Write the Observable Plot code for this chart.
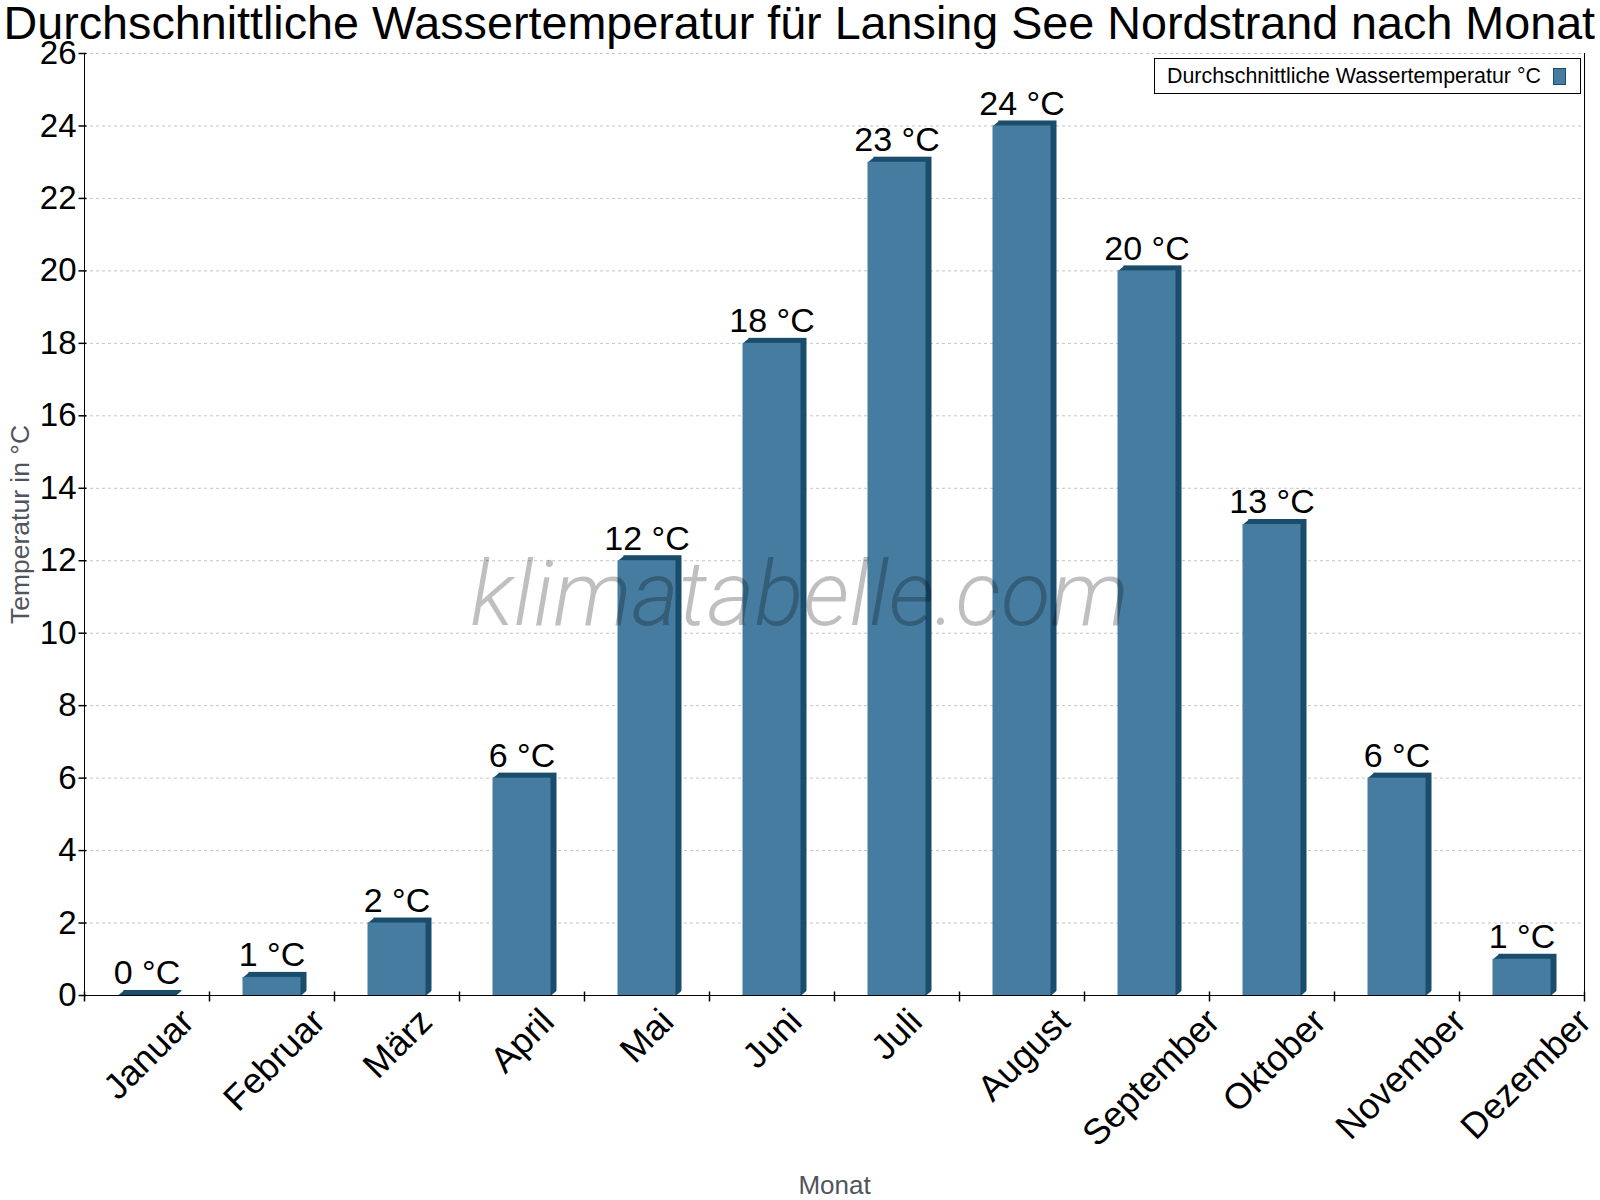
<!DOCTYPE html>
<html>
<head>
<meta charset="utf-8">
<script src="https://cdn.jsdelivr.net/npm/d3@7"></script>
<script src="https://cdn.jsdelivr.net/npm/@observablehq/plot@0.6"></script>
<style>
  body { margin: 0; background: #fff; }
  #chart { position: relative; width: 1600px; height: 1200px; font-family: "Liberation Sans", Arial, sans-serif; }
  #legend {
    position: absolute; left: 1154px; top: 58px; width: 427px; height: 36px;
    box-sizing: border-box; border: 1px solid #000; background: #fff;
    font-size: 21.4px; color: #000; line-height: 34px; padding-left: 12px; white-space: nowrap;
  }
  #legend .swatch {
    position: absolute; left: 398px; top: 9px; width: 11px; height: 15px;
    background: #467ca0; border: 1px solid #1a4c6c;
  }
</style>
</head>
<body>
<div id="chart"></div>
<script>
// Monthly mean water temperature, Lansing See Nordstrand
const months = ["Januar", "Februar", "März", "April", "Mai", "Juni", "Juli", "August", "September", "Oktober", "November", "Dezember"];
const temps = [0, 0.5, 2, 6, 12, 18, 23, 24, 20, 13, 6, 1];
const yTicks = [0, 2, 4, 6, 8, 10, 12, 14, 16, 18, 20, 22, 24, 26];

const title = "Durchschnittliche Wassertemperatur für Lansing See Nordstrand nach Monat";
const seriesName = "Durchschnittliche Wassertemperatur °C";
const yTitle = "Temperatur in °C";
const xTitle = "Monat";
const watermark = "klimatabelle.com";

const data = months.map((month, i) => ({month, temp: temps[i]}));

const W = 1600, H = 1200;
const margin = {top: 53, right: 16, bottom: 205, left: 84};
const bw = (W - margin.left - margin.right) / months.length;

const front = "#467ca0";
const dark = "#1a4c6c";
const half = 29;     // half width of the bar front face
const depth = [6, 5]; // 3D offset of top/side faces
const inset = bw / 2 - half;

// small path symbols for the 3D bar corners and axis ticks
const cornerTopLeft = {draw(c) { c.moveTo(-half, 0); c.lineTo(-half + depth[0], -depth[1]); c.lineTo(-half + depth[0], 0); c.closePath(); }};
const cornerBottomRight = {draw(c) { c.moveTo(half, 0); c.lineTo(half + depth[0], -depth[1]); c.lineTo(half + depth[0], 0.5); c.lineTo(half, 0.5); c.closePath(); }};
const tickH = {draw(c) { c.moveTo(-6, 0); c.lineTo(2, 0); }};
const tickV = {draw(c) { c.moveTo(0, -4); c.lineTo(0, 6); }};

const font = "Liberation Sans, Arial, sans-serif";
const monthFont = 36;

const svg = Plot.plot({
  width: W,
  height: H,
  marginTop: margin.top,
  marginRight: margin.right,
  marginBottom: margin.bottom,
  marginLeft: margin.left,
  style: {fontFamily: font, background: "white", overflow: "visible"},
  x: {type: "band", domain: months, padding: 0, axis: null},
  y: {domain: [0, 26], axis: null},
  marks: [
    // dotted grid
    Plot.ruleY(yTicks.filter(d => d > 0), {stroke: "#c4c4c4", strokeDasharray: "3,3"}),
    // dark back box: top face and side face
    Plot.barY(data, {x: "month", y: "temp", fill: dark, insetLeft: inset, insetRight: inset, dx: depth[0], dy: -depth[1], insetBottom: -depth[1]}),
    Plot.dot(data, {x: "month", y: "temp", symbol: cornerTopLeft, fill: dark, stroke: "none"}),
    Plot.dot(data, {x: "month", y: () => 0, symbol: cornerBottomRight, fill: "white", stroke: "none"}),
    // front face
    Plot.barY(data, {x: "month", y: "temp", fill: front, insetLeft: inset, insetRight: inset}),
    // value labels
    Plot.text(data, {x: "month", y: "temp", text: d => `${Math.round(d.temp)} °C`, lineAnchor: "middle", dy: -22, fontSize: 34, fill: "#000"}),
    // watermark
    Plot.text([watermark], {frameAnchor: "middle", textAnchor: "middle", lineAnchor: "middle", dx: -35, dy: 71, fontSize: 91, fontFamily: "Roboto", fontStyle: "italic", fontWeight: 300, fill: "#000", fillOpacity: 0.25}),
    // axis lines
    Plot.ruleY([0], {stroke: "#000"}),
    Plot.frame({anchor: "left", stroke: "#000"}),
    Plot.frame({anchor: "right", stroke: "#000"}),
    // y ticks and labels
    Plot.dot(yTicks, {y: d => d, frameAnchor: "left", symbol: tickH, stroke: "#000", fill: "none"}),
    Plot.text(yTicks, {y: d => d, text: d => String(d), frameAnchor: "left", textAnchor: "end", lineAnchor: "middle", dx: -8, fontSize: 33, fill: "#000"}),
    // x ticks at band boundaries
    Plot.dot(months, {x: d => d, frameAnchor: "bottom", dx: -bw / 2, symbol: tickV, stroke: "#000", fill: "none"}),
    Plot.dot(months.slice(-1), {x: d => d, frameAnchor: "bottom", dx: bw / 2, symbol: tickV, stroke: "#000", fill: "none"}),
    // month labels (shifted right according to their length below)
    Plot.text(months, {x: d => d, frameAnchor: "bottom", rotate: -45, textAnchor: "end", lineAnchor: "middle", dx: -2, dy: 20.1, fontSize: monthFont, fill: "#000"}),
    // axis titles
    Plot.text([yTitle], {frameAnchor: "left", textAnchor: "middle", lineAnchor: "middle", dx: -64, rotate: -90, fontSize: 26.5, fill: "#50555c"}),
    Plot.text([xTitle], {frameAnchor: "bottom", textAnchor: "middle", lineAnchor: "middle", dy: 189.7, fontSize: 26, fill: "#50555c"}),
    // chart title
    Plot.text([title], {frameAnchor: "top-left", textAnchor: "start", lineAnchor: "middle", dx: -81, dy: -29, fontSize: 46.7, fill: "#000"})
  ]
});

const chart = document.getElementById("chart");
chart.append(svg);

// month labels: push each label right in proportion to its length
d3.select(svg).selectAll("text").each(function() {
  if (!months.includes(this.textContent)) return;
  const len = this.getComputedTextLength();
  const t = this.getAttribute("transform") || "";
  this.setAttribute("transform", `translate(${(0.39 * len).toFixed(1)},0) ${t}`);
});

const legend = document.createElement("div");
legend.id = "legend";
legend.innerHTML = `<span></span><div class="swatch"></div>`;
legend.querySelector("span").textContent = seriesName;
chart.append(legend);
</script>
</body>
</html>
